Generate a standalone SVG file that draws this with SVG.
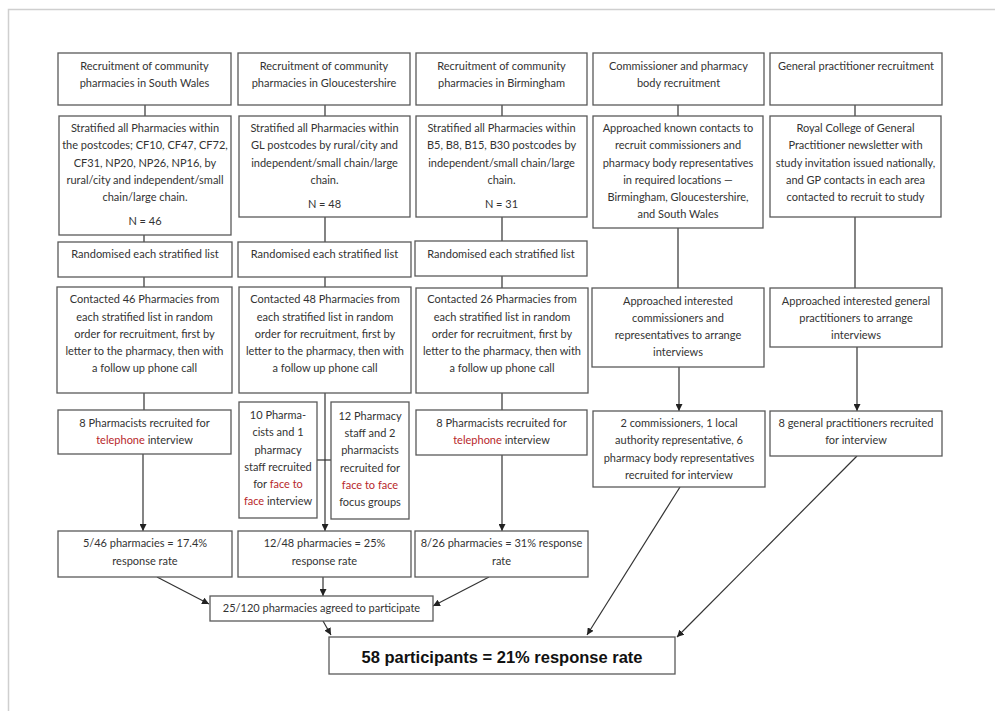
<svg xmlns="http://www.w3.org/2000/svg" width="995" height="711" viewBox="0 0 995 711">
<style>
.b{fill:#fff;stroke:#595959;stroke-width:1.3}
.t{font-family:Lato,"Liberation Sans",sans-serif;font-size:11px;fill:#333;text-anchor:middle}
.r{fill:#b8282b}
.big{font-family:"Liberation Sans",Arial,sans-serif;font-size:16.5px;font-weight:bold;fill:#111;text-anchor:middle}
.c{fill:none;stroke:#333;stroke-width:1.2}
</style>
<defs>
<marker id="ah" viewBox="0 0 10 10" refX="10" refY="5" markerWidth="7" markerHeight="7" markerUnits="userSpaceOnUse" orient="auto"><path d="M0,0L10,5L0,10z" fill="#222"/></marker>
</defs>
<rect x="0" y="0" width="995" height="711" fill="#fff"/>
<path d="M8.5,711V9.5H995" fill="none" stroke="#cfcfcf" stroke-width="1.5"/>

<g id="connectors">
<path class="c" d="M145,105V116M325,105V116M502,105V116M678,105V116M855,105V116"/>
<path class="c" d="M144,235V242M325,217V242M502,217V241"/>
<path class="c" d="M144,277V287M325,277V287M502,276V288"/>
<path class="c" d="M144,393V410M502,393V410"/>
<path class="c" d="M678,228V288M855,217V288"/>
<path class="c" d="M317,460H331"/>
<path class="c" marker-end="url(#ah)" d="M143,454V531"/>
<path class="c" marker-end="url(#ah)" d="M325,393V531"/>
<path class="c" marker-end="url(#ah)" d="M502,455V531"/>
<path class="c" marker-end="url(#ah)" d="M679,367V411"/>
<path class="c" marker-end="url(#ah)" d="M857,347V411"/>
<path class="c" marker-end="url(#ah)" d="M157,577L209,604"/>
<path class="c" marker-end="url(#ah)" d="M323,577V596"/>
<path class="c" marker-end="url(#ah)" d="M489,577L433,606"/>
<path class="c" marker-end="url(#ah)" d="M323,621L331,635"/>
<path class="c" marker-end="url(#ah)" d="M680,487L587,635"/>
<path class="c" marker-end="url(#ah)" d="M857,456L677,637"/>
</g>

<g id="sw-head"><rect class="b" x="58" y="53" width="173" height="52"/>
<text class="t" x="144.5" y="70">Recruitment of community</text>
<text class="t" x="144.5" y="87">pharmacies in South Wales</text></g>
<g id="glos-head"><rect class="b" x="238" y="53" width="172" height="52"/>
<text class="t" x="324" y="70">Recruitment of community</text>
<text class="t" x="324" y="87">pharmacies in Gloucestershire</text></g>
<g id="birm-head"><rect class="b" x="416" y="53" width="171" height="52"/>
<text class="t" x="501.5" y="70">Recruitment of community</text>
<text class="t" x="501.5" y="87">pharmacies in Birmingham</text></g>
<g id="comm-head"><rect class="b" x="593" y="53" width="171" height="52"/>
<text class="t" x="678.5" y="70">Commissioner and pharmacy</text>
<text class="t" x="678.5" y="87">body recruitment</text></g>
<g id="gp-head"><rect class="b" x="770" y="53" width="172" height="52"/>
<text class="t" x="856" y="70">General practitioner recruitment</text></g>

<g id="sw-strat"><rect class="b" x="59" y="116" width="172" height="119"/>
<text class="t" x="145" y="132">Stratified all Pharmacies within</text>
<text class="t" x="145" y="149">the postcodes; CF10, CF47, CF72,</text>
<text class="t" x="145" y="166.5">CF31, NP20, NP26, NP16, by</text>
<text class="t" x="145" y="183.5">rural/city and independent/small</text>
<text class="t" x="145" y="201">chain/large chain.</text>
<text class="t" x="145" y="225">N = 46</text></g>
<g id="glos-strat"><rect class="b" x="239" y="116" width="171" height="101"/>
<text class="t" x="324.5" y="132">Stratified all Pharmacies within</text>
<text class="t" x="324.5" y="149">GL postcodes by rural/city and</text>
<text class="t" x="324.5" y="166.5">independent/small chain/large</text>
<text class="t" x="324.5" y="183.5">chain.</text>
<text class="t" x="324.5" y="208">N = 48</text></g>
<g id="birm-strat"><rect class="b" x="416" y="116" width="171" height="101"/>
<text class="t" x="501.5" y="132">Stratified all Pharmacies within</text>
<text class="t" x="501.5" y="149">B5, B8, B15, B30 postcodes by</text>
<text class="t" x="501.5" y="166.5">independent/small chain/large</text>
<text class="t" x="501.5" y="183.5">chain.</text>
<text class="t" x="501.5" y="208">N = 31</text></g>
<g id="comm-approach"><rect class="b" x="593" y="116" width="170" height="112"/>
<text class="t" x="678" y="132">Approached known contacts to</text>
<text class="t" x="678" y="149">recruit commissioners and</text>
<text class="t" x="678" y="166.5">pharmacy body representatives</text>
<text class="t" x="678" y="183.5">in required locations —</text>
<text class="t" x="678" y="201">Birmingham, Gloucestershire,</text>
<text class="t" x="678" y="218">and South Wales</text></g>
<g id="gp-rcgp"><rect class="b" x="770" y="116" width="171" height="101"/>
<text class="t" x="855.5" y="132">Royal College of General</text>
<text class="t" x="855.5" y="149">Practitioner newsletter with</text>
<text class="t" x="855.5" y="166.5">study invitation issued nationally,</text>
<text class="t" x="855.5" y="183.5">and GP contacts in each area</text>
<text class="t" x="855.5" y="201">contacted to recruit to study</text></g>

<g id="sw-rand"><rect class="b" x="58" y="242" width="174" height="35"/>
<text class="t" x="145" y="258">Randomised each stratified list</text></g>
<g id="glos-rand"><rect class="b" x="238" y="242" width="173" height="35"/>
<text class="t" x="324.5" y="258">Randomised each stratified list</text></g>
<g id="birm-rand"><rect class="b" x="415" y="241" width="172" height="35"/>
<text class="t" x="501" y="258">Randomised each stratified list</text></g>

<g id="sw-contact"><rect class="b" x="57" y="287" width="175" height="106"/>
<text class="t" x="144.5" y="303">Contacted 46 Pharmacies from</text>
<text class="t" x="144.5" y="320.5">each stratified list in random</text>
<text class="t" x="144.5" y="338">order for recruitment, first by</text>
<text class="t" x="144.5" y="355">letter to the pharmacy, then with</text>
<text class="t" x="144.5" y="372">a follow up phone call</text></g>
<g id="glos-contact"><rect class="b" x="239" y="287" width="172" height="106"/>
<text class="t" x="325" y="303">Contacted 48 Pharmacies from</text>
<text class="t" x="325" y="320.5">each stratified list in random</text>
<text class="t" x="325" y="338">order for recruitment, first by</text>
<text class="t" x="325" y="355">letter to the pharmacy, then with</text>
<text class="t" x="325" y="372">a follow up phone call</text></g>
<g id="birm-contact"><rect class="b" x="416" y="288" width="172" height="105"/>
<text class="t" x="502" y="303">Contacted 26 Pharmacies from</text>
<text class="t" x="502" y="320.5">each stratified list in random</text>
<text class="t" x="502" y="338">order for recruitment, first by</text>
<text class="t" x="502" y="355">letter to the pharmacy, then with</text>
<text class="t" x="502" y="372">a follow up phone call</text></g>
<g id="comm-interested"><rect class="b" x="592" y="288" width="172" height="79"/>
<text class="t" x="678" y="305">Approached interested</text>
<text class="t" x="678" y="322">commissioners and</text>
<text class="t" x="678" y="339">representatives to arrange</text>
<text class="t" x="678" y="356">interviews</text></g>
<g id="gp-interested"><rect class="b" x="770" y="288" width="172" height="59"/>
<text class="t" x="856" y="305">Approached interested general</text>
<text class="t" x="856" y="322">practitioners to arrange</text>
<text class="t" x="856" y="339">interviews</text></g>

<g id="sw-recruited"><rect class="b" x="58" y="410" width="173" height="44"/>
<text class="t" x="144.5" y="427">8 Pharmacists recruited for</text>
<text class="t" x="144.5" y="444"><tspan class="r">telephone</tspan> interview</text></g>
<g id="glos-recruited-a"><rect class="b" x="239" y="402" width="78" height="116"/>
<text class="t" x="278" y="419">10 Pharma-</text>
<text class="t" x="278" y="436">cists and 1</text>
<text class="t" x="278" y="454">pharmacy</text>
<text class="t" x="278" y="471">staff recruited</text>
<text class="t" x="278" y="488">for <tspan class="r">face to</tspan></text>
<text class="t" x="278" y="505"><tspan class="r">face</tspan> interview</text></g>
<g id="glos-recruited-b"><rect class="b" x="331" y="402" width="78" height="117"/>
<text class="t" x="370" y="420">12 Pharmacy</text>
<text class="t" x="370" y="437">staff and 2</text>
<text class="t" x="370" y="454">pharmacists</text>
<text class="t" x="370" y="472">recruited for</text>
<text class="t r" x="370" y="489">face to face</text>
<text class="t" x="370" y="506">focus groups</text></g>
<g id="birm-recruited"><rect class="b" x="416" y="410" width="171" height="45"/>
<text class="t" x="501.5" y="427">8 Pharmacists recruited for</text>
<text class="t" x="501.5" y="444"><tspan class="r">telephone</tspan> interview</text></g>
<g id="comm-recruited"><rect class="b" x="593" y="411" width="172" height="76"/>
<text class="t" x="679" y="427">2 commissioners, 1 local</text>
<text class="t" x="679" y="444">authority representative, 6</text>
<text class="t" x="679" y="462">pharmacy body representatives</text>
<text class="t" x="679" y="479">recruited for interview</text></g>
<g id="gp-recruited"><rect class="b" x="770" y="411" width="172" height="45"/>
<text class="t" x="856" y="427">8 general practitioners recruited</text>
<text class="t" x="856" y="444">for interview</text></g>

<g id="sw-rate"><rect class="b" x="58" y="531" width="174" height="46"/>
<text class="t" x="145" y="547">5/46 pharmacies = 17.4%</text>
<text class="t" x="145" y="565">response rate</text></g>
<g id="glos-rate"><rect class="b" x="238" y="531" width="173" height="46"/>
<text class="t" x="324.5" y="547">12/48 pharmacies = 25%</text>
<text class="t" x="324.5" y="565">response rate</text></g>
<g id="birm-rate"><rect class="b" x="415" y="531" width="173" height="46"/>
<text class="t" x="501.5" y="547">8/26 pharmacies = 31% response</text>
<text class="t" x="501.5" y="565">rate</text></g>

<g id="pharm-total"><rect class="b" x="210" y="596" width="223" height="25"/>
<text class="t" x="321.5" y="612">25/120 pharmacies agreed to participate</text></g>
<g id="total"><rect class="b" x="329" y="637" width="346" height="37"/>
<text class="big" x="502" y="663">58 participants = 21% response rate</text></g>
</svg>
